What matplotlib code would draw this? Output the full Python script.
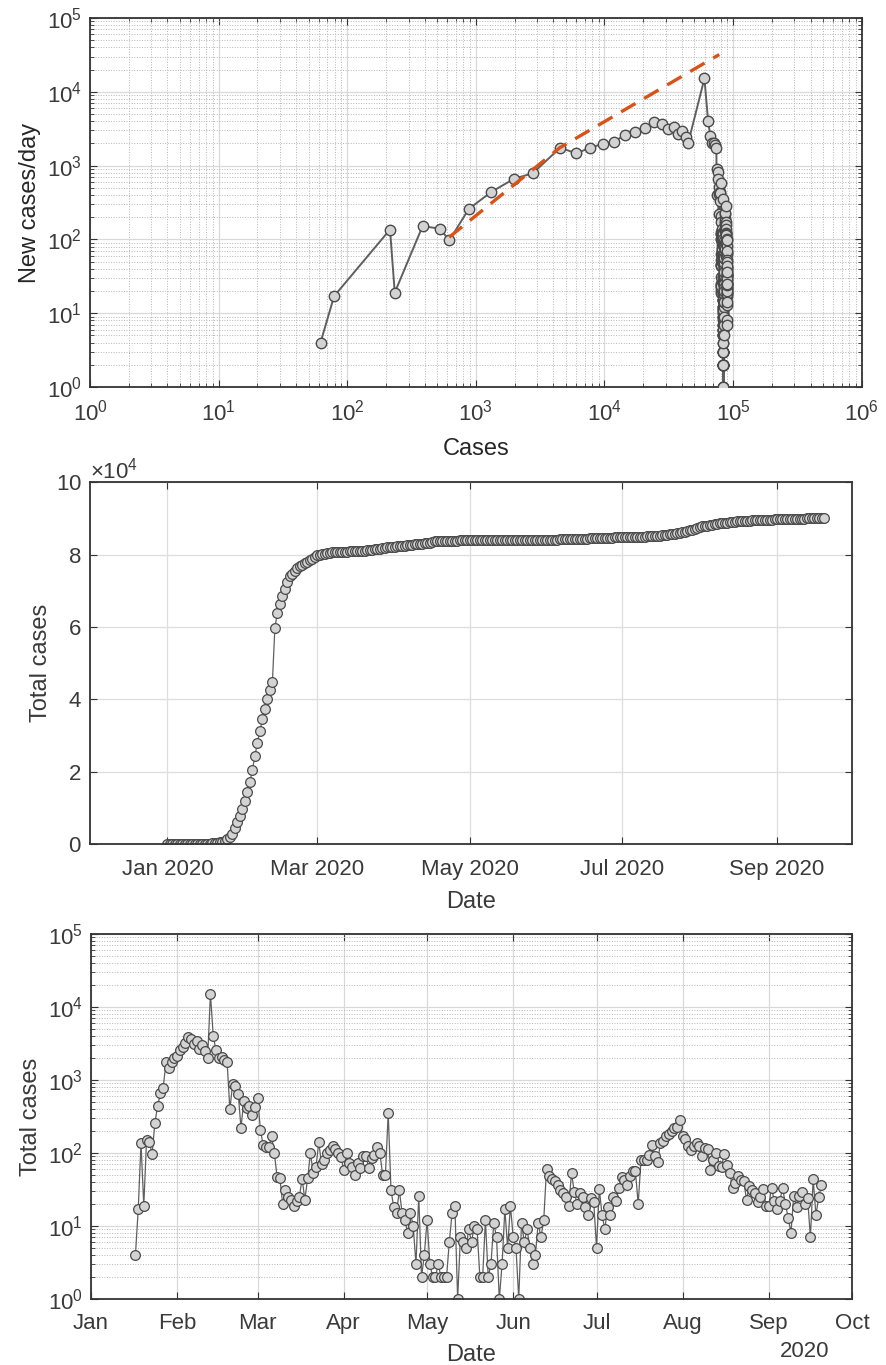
import numpy as np
import pandas as pd
import matplotlib
matplotlib.use('Agg')
import matplotlib.pyplot as plt
import matplotlib.dates as mdates
from matplotlib.ticker import LogLocator, NullFormatter

plt.rcParams['font.family'] = ['Liberation Sans', 'DejaVu Sans']
plt.rcParams['mathtext.default'] = 'regular'

# дневные данные (новые случаи), начиная с 17 января 2020
first_case_day = '2020-01-17'
series_start = '2020-01-01'
total_before = 58

new_jan_feb = [4, 17, 136, 19, 151, 140, 97, 259, 441, 665, 787, 1753, 1466, 1740, 1980,
               2102, 2590, 2829, 3235, 3884, 3694, 3143, 3385, 2652, 2984, 2467, 2015,
               15152, 4050, 2538, 2007, 2052, 1890, 1750, 394, 889, 823, 651, 220, 518,
               411, 439, 329, 428]
new_mar_apr = [574, 205, 127, 119, 120, 170, 100, 47, 45, 20, 31, 25, 23, 19, 22, 25, 44,
               23, 45, 100, 53, 64, 140, 70, 81, 100, 110, 123, 115, 100, 88,
               59, 100, 73, 65, 50, 73, 62, 90, 90, 62, 85, 95, 120, 100, 50, 50, 355]
new_apr_jun = [31, 18, 15, 31, 15, 12, 8, 15, 10, 3, 26, 2, 4, 12, 3, 2, 2, 3, 2, 2, 2, 6,
               15, 19, 1, 7, 6, 5, 9, 6, 10, 9, 2, 2, 12, 2, 3, 11, 7, 1, 3, 17, 5, 19, 7,
               5, 1, 11, 6, 9, 5, 3, 4, 11]
new_jun_jul = [7, 12, 61, 48, 44, 41, 36, 31, 28, 25, 19, 53, 29, 20, 28, 25, 18, 14, 24,
               21, 5, 32, 14, 9, 18, 14, 25, 22, 33, 47, 42, 36, 48, 56, 56, 20,
               79, 81, 81, 95, 130, 90, 75, 137, 144, 169, 180, 197, 218, 230, 280]
new_aug_sep = [172, 155, 123, 111, 125, 137, 123, 92, 117, 113, 59, 81, 100, 67, 64, 98,
               69, 53, 33, 39, 49, 42, 41, 23, 35, 31, 28, 21, 25, 32, 19, 19, 33, 22, 17,
               22, 33, 20, 13, 8, 26, 18, 26, 29, 20, 24, 7, 44, 14, 25, 36]

# аппроксимация роста (ломаная в лог-лог)
fit_cases = [620, 4500, 78000]
fit_new = [107, 1750, 32000]

new_cases = np.array(new_jan_feb + new_mar_apr + new_apr_jun + new_jun_jul + new_aug_sep, dtype=float)
dates = pd.date_range(first_case_day, periods=len(new_cases), freq='D')
total = total_before + np.cumsum(new_cases)

early_dates = pd.date_range(series_start, dates[0] - pd.Timedelta(days=1), freq='D')
all_dates = early_dates.append(dates)
all_total = np.concatenate([np.full(len(early_dates), total_before), total])

line_color = '#5f5f5f'
face_color = '#d3d3d3'
edge_color = '#4a4a4a'
spine_color = '#333333'
text_color = '#3a3a3a'

fig = plt.figure(figsize=(8.87, 13.65), dpi=100)


def style_axes(ax, xpad, ypad):
    for s in ax.spines.values():
        s.set_color(spine_color)
        s.set_linewidth(1.3)
    ax.tick_params(which='both', direction='in', top=True, right=True, colors=spine_color,
                   labelcolor=text_color, labelsize=16)
    ax.tick_params(which='major', length=5)
    ax.tick_params(which='minor', length=3)
    ax.tick_params(axis='x', which='both', pad=xpad)
    ax.tick_params(axis='y', which='both', pad=ypad)


def log_grid(ax, axis='both'):
    ax.grid(True, which='major', axis=axis, color='#d9d9d9', linewidth=0.9)
    ax.grid(True, which='minor', axis=axis, color='#b5b5b5', linestyle=':', linewidth=0.7)


# График 1: новые случаи от общего числа
ax1 = fig.add_axes([0.1015, 0.7165, 0.870, 0.2703])
ax1.set_xscale('log')
ax1.set_yscale('log')
ax1.plot(total, new_cases, '-o', color=line_color, lw=1.4, ms=7.5,
         mfc=face_color, mec=edge_color, mew=1.0, zorder=3)
ax1.plot(fit_cases, fit_new, '--', color='#D95319', lw=2.4, dashes=(5, 3), zorder=4)
ax1.set_xlim(1, 1e6)
ax1.set_ylim(1, 1e5)
ax1.xaxis.set_major_locator(LogLocator(base=10, numticks=10))
ax1.xaxis.set_minor_locator(LogLocator(base=10, subs=np.arange(2, 10), numticks=20))
ax1.yaxis.set_minor_locator(LogLocator(base=10, subs=np.arange(2, 10), numticks=20))
ax1.xaxis.set_minor_formatter(NullFormatter())
ax1.yaxis.set_minor_formatter(NullFormatter())
log_grid(ax1)
style_axes(ax1, 9, 6)
ax1.set_xlabel('Cases', fontsize=17, labelpad=9, color='#262626')
ax1.set_ylabel('New cases/day', fontsize=17, labelpad=4, color='#262626')

# График 2: общее число случаев по датам
ax2 = fig.add_axes([0.1015, 0.3817, 0.8590, 0.2650])
ax2.plot(all_dates, all_total, '-o', color=line_color, lw=0.9, ms=7,
         mfc=face_color, mec=edge_color, mew=0.9)
ax2.set_xlim(pd.Timestamp('2019-12-01'), pd.Timestamp('2020-10-01'))
ax2.set_ylim(0, 1e5)
ax2.set_xticks(pd.to_datetime(['2020-01-01', '2020-03-01', '2020-05-01', '2020-07-01', '2020-09-01']))
ax2.xaxis.set_major_formatter(mdates.DateFormatter('%b %Y'))
ax2.set_yticks(np.arange(0, 100001, 20000))
ax2.ticklabel_format(axis='y', style='sci', scilimits=(4, 4), useMathText=True)
ax2.yaxis.get_offset_text().set_fontsize(16)
ax2.yaxis.get_offset_text().set_color(text_color)
ax2.grid(True, color='#dedede', linewidth=0.9)
style_axes(ax2, 11, 6)
ax2.set_xlabel('Date', fontsize=17, labelpad=8, color='#3a3a3a')
ax2.set_ylabel('Total cases', fontsize=17, labelpad=3, color='#3a3a3a')

# График 3: новые случаи по датам (лог)
ax3 = fig.add_axes([0.1026, 0.0484, 0.8580, 0.2674])
ax3.set_yscale('log')
ax3.plot(dates, new_cases, '-o', color=line_color, lw=0.9, ms=7,
         mfc=face_color, mec=edge_color, mew=0.9)
ax3.set_xlim(pd.Timestamp('2020-01-01'), pd.Timestamp('2020-10-01'))
ax3.set_ylim(1, 1e5)
ax3.xaxis.set_major_locator(mdates.MonthLocator())
ax3.xaxis.set_major_formatter(mdates.DateFormatter('%b'))
ax3.yaxis.set_minor_locator(LogLocator(base=10, subs=np.arange(2, 10), numticks=20))
ax3.yaxis.set_minor_formatter(NullFormatter())
ax3.grid(True, which='major', color='#d9d9d9', linewidth=0.9)
ax3.grid(True, which='minor', axis='y', color='#b5b5b5', linestyle=':', linewidth=0.7)
style_axes(ax3, 10, 6)
ax3.set_xlabel('Date', fontsize=17, labelpad=7, color='#3a3a3a')
ax3.set_ylabel('Total cases', fontsize=17, labelpad=4, color='#3a3a3a')
ax3.text(0.938, -0.145, '2020', transform=ax3.transAxes, ha='center', va='center',
         fontsize=16, color=text_color)

plt.savefig('out.png', dpi=100)
